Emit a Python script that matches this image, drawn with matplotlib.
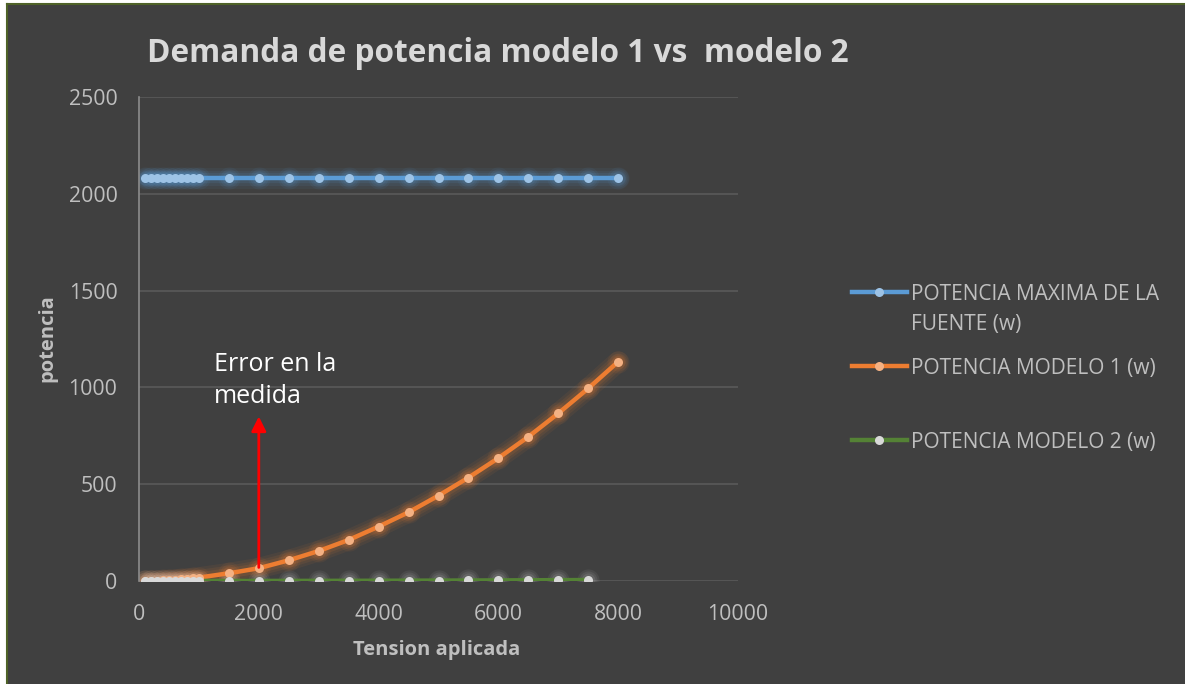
import matplotlib
matplotlib.use("Agg")
import matplotlib.pyplot as plt
from matplotlib.lines import Line2D
from matplotlib.patches import Rectangle

# ---------------- data ----------------
x_low = [100, 200, 300, 400, 500, 600, 700, 800, 900, 1000]
x_high = [1500, 2000, 2500, 3000, 3500, 4000, 4500, 5000, 5500, 6000, 6500, 7000, 7500, 8000]
x_fuente = x_low + x_high
p_fuente = [2080] * len(x_fuente)

x_m1 = x_low + x_high
p_m1 = [0.2, 0.7, 1.6, 2.8, 4.4, 6.4, 8.7, 11.3, 14.3, 17.7,
        40, 66, 107, 155, 212, 281, 355, 441, 534, 635, 745, 866, 995, 1133]

x_m2 = x_low + x_high[:-1]
p_m2 = [0, 0, 0, 0, 0, 0, 0, 0.1, 0.1, 0.1,
        0.2, 0.4, 0.6, 0.8, 1.1, 1.4, 1.8, 2.2, 2.7, 3.2, 3.8, 4.4, 5.0]

labels = ["POTENCIA MAXIMA DE LA\nFUENTE (w)", "POTENCIA MODELO 1 (w)", "POTENCIA MODELO 2 (w)"]
title = "Demanda de potencia modelo 1 vs  modelo 2"
xlabel = "Tension aplicada"
ylabel = "potencia"
xticks = [0, 2000, 4000, 6000, 8000, 10000]
yticks = [0, 500, 1000, 1500, 2000, 2500]
annot_text = "Error en la\nmedida"
arrow_x = 2000
arrow_y0 = 70
arrow_y1 = 850

# ---------------- style ----------------
BG = "#404040"
W, H = 1185, 684
plt.rcParams['font.family'] = ['Open Sans', 'DejaVu Sans']
TXT = "#bfbfbf"

fig = plt.figure(figsize=(W / 100, H / 100), dpi=100, facecolor=BG)
ax = fig.add_axes([139 / W, 1 - 581 / H, (738 - 139) / W, (581 - 97) / H])
ax.set_facecolor(BG)

series = [
    (x_fuente, p_fuente, "#5b9bd5", "#9dc3e6", "#5b9bd5", True),
    (x_m1, p_m1, "#ed7d31", "#f4b183", "#ed7d31", True),
    (x_m2, p_m2, "#548235", "#d9d9d9", "#d0d0d0", False),
]

MS = 6.5
for xs, ys, lc, mc, gc, lineglow in series:
    # soft glow
    for lw, ms, a in [(15, 16, 0.07), (11, 13, 0.09), (7.5, 10, 0.12)]:
        if lineglow:
            ax.plot(xs, ys, color=gc, lw=lw, alpha=a, solid_capstyle='round', zorder=2)
        ax.plot(xs, ys, ls='none', marker='o', ms=ms, color=gc, alpha=a,
                markeredgewidth=0, zorder=2)
    ax.plot(xs, ys, color=lc, lw=3.2, zorder=3, solid_capstyle='round')
    ax.plot(xs, ys, ls='none', marker='o', ms=MS, color=mc, markeredgewidth=0, zorder=4)

ax.set_xlim(0, 10000)
ax.set_ylim(0, 2500)
ax.set_xticks(xticks)
ax.set_yticks(yticks)
ax.set_xticklabels([str(t) for t in xticks])
ax.set_yticklabels([str(t) for t in yticks])
ax.grid(axis='y', color="#5a5a5a", lw=1.2)
ax.set_axisbelow(True)
for s in ["top", "right", "bottom"]:
    ax.spines[s].set_visible(False)
ax.spines["left"].set_color("#8c8c8c")
ax.spines["left"].set_linewidth(1.2)
ax.tick_params(axis='both', length=0, colors=TXT, labelsize=15.3)
ax.tick_params(axis='y', pad=15.5)
ax.tick_params(axis='x', pad=16.5)

ax.set_xlabel(xlabel, fontsize=14.5, fontweight='bold', color=TXT)
ax.set_ylabel(ylabel, fontsize=14.5, fontweight='bold', color=TXT)
ax.xaxis.set_label_coords((437 - 139) / 599, (581 - 650) / 484)
ax.xaxis.label.set_va('center')
ax.yaxis.set_label_coords((47 - 139) / 599, (581 - 338) / 484)
ax.yaxis.label.set_va('center')

fig.text(498 / W, 1 - 53 / H, title, fontsize=22.8, fontweight='bold',
         color="#d9d9d9", ha='center', va='center')

# annotation arrow + text
ax.annotate("", xy=(arrow_x, arrow_y1), xytext=(arrow_x, arrow_y0),
            arrowprops=dict(arrowstyle='-|>', color='#ff0000', lw=2,
                            mutation_scale=22, shrinkA=0, shrinkB=0), zorder=5)
ax.text(1250, 1185, annot_text, fontsize=18, color="white", ha='left', va='top',
        linespacing=1.4, zorder=6)

# legend (drawn in figure pixel positions)
leg_rows = [292, 366, 440]
for (xs, ys, lc, mc, gc, lineglow), lab, yy in zip(series, labels, leg_rows):
    yf = 1 - yy / H
    fig.add_artist(Line2D([852 / W, 907 / W], [yf, yf], transform=fig.transFigure,
                          color=lc, lw=3.2))
    fig.add_artist(Line2D([879 / W], [yf], transform=fig.transFigure, marker='o',
                          ms=MS, color=mc, markeredgewidth=0, ls='none'))
    fig.text(911 / W, 1 - (yy - 8) / H, lab, fontsize=15, color=TXT, ha='left', va='top',
             linespacing=1.55, transform=fig.transFigure)

# top/left frame fragment
fig.patches.append(Rectangle((0, 0), 6 / W, 1, transform=fig.transFigure,
                             facecolor='white', edgecolor='none', zorder=0))
fig.patches.append(Rectangle((0, 1 - 3 / H), 1, 3 / H, transform=fig.transFigure,
                             facecolor='white', edgecolor='none', zorder=0))
fig.add_artist(Line2D([6.5 / W, 6.5 / W], [0, 1 - 3.5 / H], transform=fig.transFigure,
                      color="#4f6228", lw=1.5))
fig.add_artist(Line2D([6.5 / W, 1], [1 - 3.5 / H, 1 - 3.5 / H], transform=fig.transFigure,
                      color="#4f6228", lw=1.5))

fig.savefig("out.png", dpi=100, facecolor=BG)
